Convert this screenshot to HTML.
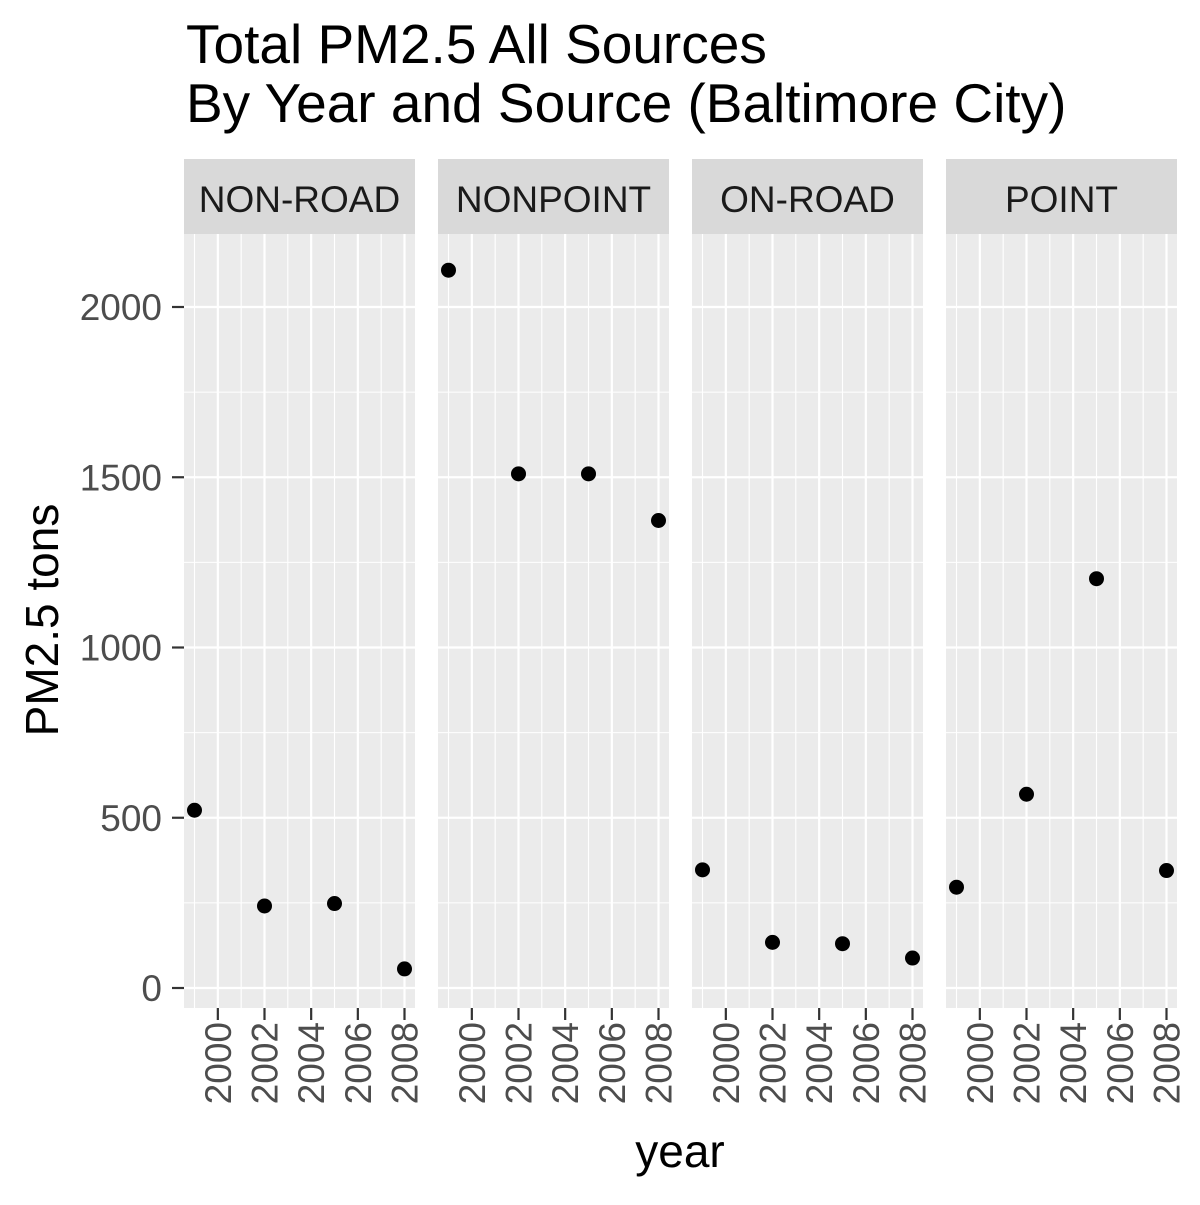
<!DOCTYPE html>
<html><head><meta charset="utf-8"><style>
body{margin:0;background:#fff;}
svg text{font-family:"Liberation Sans",Arial,sans-serif;}
</style></head><body>
<svg id="chart" width="1200" height="1200" xmlns="http://www.w3.org/2000/svg">
<text x="186" y="63" font-size="55" fill="#000">Total PM2.5 All Sources</text>
<text x="186" y="122" font-size="55" fill="#000">By Year and Source (Baltimore City)</text>
<text transform="translate(58,620) rotate(-90)" text-anchor="middle" font-size="46" fill="#000">PM2.5 tons</text>
<text x="680" y="1167" text-anchor="middle" font-size="46" fill="#000">year</text>
<g id="plots"></g>
</svg>
<script>
const facets=["NON-ROAD","NONPOINT","ON-ROAD","POINT"];
const years=[1999,2002,2005,2008];
const nonRoad=[522,241,248,56];
const nonPoint=[2108,1510,1510,1373];
const onRoad=[347,134,130,88];
const point=[296,569,1202,345];
const yTicks=[0,500,1000,1500,2000];
const yMinor=[250,750,1250,1750];
const xTicks=[2000,2002,2004,2006,2008];
const xMinor=[1999,2001,2003,2005,2007];
const series=[nonRoad,nonPoint,onRoad,point];
const NS="http://www.w3.org/2000/svg";
const g=document.getElementById('plots');
function el(t,a,p){const e=document.createElementNS(NS,t);for(const k in a)e.setAttribute(k,a[k]);(p||g).appendChild(e);return e;}
const panelTop=234,panelBot=1008,panelW=231,gap=23,left0=184;
const yScale=v=>988-v*(988-307)/2000;
const xScale=(i,yr)=>{const l=left0+i*(panelW+gap);return l+10.5+(yr-1999)*(panelW-21)/9;};
yTicks.forEach(v=>{
  const tk=el('line',{x1:172,x2:184,y1:yScale(v),y2:yScale(v),stroke:'#333','stroke-width':2.2});
  
  
  const t=el('text',{x:162,y:yScale(v)+13,'text-anchor':'end','font-size':37,fill:'#4d4d4d'});
  t.textContent=v;
  
  
});
facets.forEach((f,i)=>{
  const l=left0+i*(panelW+gap);
  const bg=el('rect',{x:l,y:panelTop,width:panelW,height:panelBot-panelTop,fill:'#ebebeb'});
  
  
  const st=el('rect',{x:l,y:159,width:panelW,height:75,fill:'#d9d9d9'});
  
  
  const sl=el('text',{x:l+panelW/2,y:212,'text-anchor':'middle','font-size':37,fill:'#1a1a1a'});
  sl.textContent=f;
  
  
  yMinor.forEach(v=>{const m=el('line',{x1:l,x2:l+panelW,y1:yScale(v),y2:yScale(v),stroke:'#fff','stroke-width':1.1});});
  xMinor.forEach(v=>{const m=el('line',{x1:xScale(i,v),x2:xScale(i,v),y1:panelTop,y2:panelBot,stroke:'#fff','stroke-width':1.1});});
  yTicks.forEach(v=>{const m=el('line',{x1:l,x2:l+panelW,y1:yScale(v),y2:yScale(v),stroke:'#fff','stroke-width':2.2});});
  xTicks.forEach(v=>{
    const x=xScale(i,v);
    const m=el('line',{x1:x,x2:x,y1:panelTop,y2:panelBot,stroke:'#fff','stroke-width':2.2});
    
    
    const tk=el('line',{x1:x,x2:x,y1:panelBot,y2:panelBot+12,stroke:'#333','stroke-width':2.2});
    
    
    const t=el('text',{transform:`translate(${x+13},1022) rotate(-90)`,'text-anchor':'end','font-size':37,fill:'#4d4d4d'});
    t.textContent=v;
    
    
  });
  series[i].forEach((v,j)=>{
    const c=el('circle',{cx:xScale(i,years[j]),cy:yScale(v),r:7.5,fill:'#000'});
    
    
  });
});
</script>
</body></html>
